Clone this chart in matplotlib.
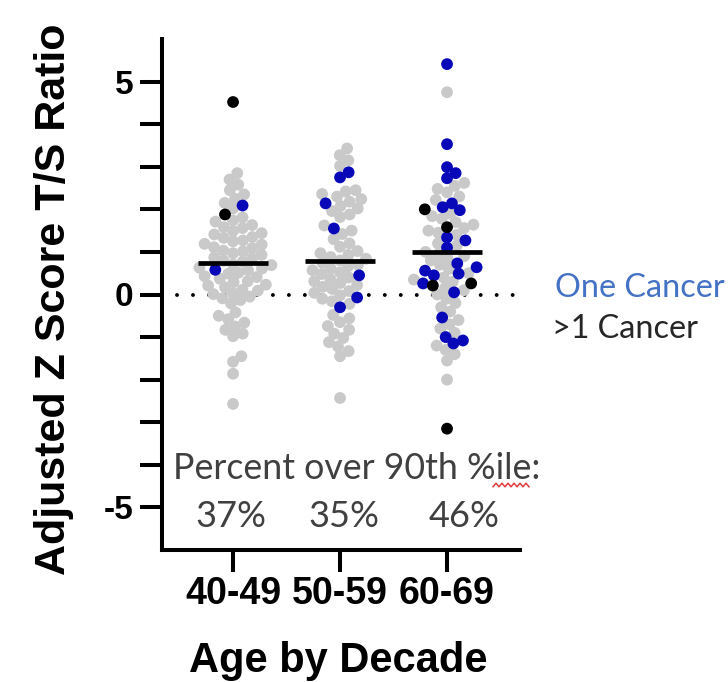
import numpy as np
import matplotlib
matplotlib.use("Agg")
import matplotlib.pyplot as plt
from matplotlib.lines import Line2D
from matplotlib.ticker import FixedLocator

plt.rcParams['font.family'] = ['Liberation Sans', 'DejaVu Sans']

# ---- data ----
groups = ['40-49', '50-59', '60-69']

gray_4049 = [2.85, 2.70, 2.58, 2.45, 2.35, 2.25, 2.15, 2.02,
             1.81, 1.74, 1.71, 1.63, 1.58, 1.56, 1.49, 1.44, 1.41, 1.35, 1.33, 1.27,
             1.25, 1.19, 1.17, 1.11, 1.09, 1.03, 1.01, 0.97, 0.93, 0.87, 0.85, 0.79,
             0.77, 0.71, 0.69, 0.63, 0.61, 0.57, 0.51, 0.49, 0.43, 0.41, 0.37, 0.31,
             0.29, 0.23, 0.21, 0.17, 0.11, 0.09, 0.03, 0.01, -0.05, -0.09, -0.13, -0.21,
             -0.42, -0.50, -0.58, -0.66, -0.75, -0.83, -0.92, -0.98,
             -1.45, -1.58, -1.86, -2.57]
blue_4049 = [2.09, 0.58]
black_4049 = [4.52, 1.88]

gray_5059 = [3.43, 3.27, 3.15, 3.02,
             2.45, 2.42, 2.36, 2.30, 2.24, 2.18, 2.08, 2.02, 1.96, 1.88, 1.82,
             1.62, 1.50, 1.42, 1.30, 1.20, 1.12,
             1.02, 0.97, 0.93, 0.88, 0.84, 0.80, 0.74, 0.70, 0.66, 0.61, 0.57, 0.52,
             0.48, 0.40, 0.36, 0.31, 0.27, 0.22, 0.18, 0.13, 0.08, 0.04, -0.02, -0.10,
             -0.16, -0.22,
             -0.48, -0.56, -0.65, -0.74, -0.83, -0.92, -1.02, -1.12, -1.22, -1.33,
             -1.45, -2.43]
blue_5059 = [2.87, 2.75, 2.14, 1.55, 0.45, -0.07, -0.30]
black_5059 = []

gray_6069 = [4.75, 2.62, 2.55, 2.48, 2.40, 2.30, 2.22, 1.90, 1.84, 1.78, 1.70, 1.64,
             1.56, 1.50, 1.45, 1.40, 1.20, 1.15, 1.00, 0.95, 0.90, 0.85, 0.80, 0.70,
             0.60, 0.50, 0.40, 0.35, 0.30, 0.15, 0.10, 0.00, -0.10, -0.20, -0.30,
             -0.40, -0.60, -0.70, -0.80, -0.90, -1.20, -1.30, -1.40, -1.55, -2.00]
blue_6069 = [5.41, 3.53, 2.99, 2.85, 2.73, 2.14, 2.05, 1.98, 1.34, 1.27, 1.10, 0.73,
             0.64, 0.56, 0.49, 0.45, 0.26, 0.05, -0.54, -1.00, -1.08, -1.15]
black_6069 = [2.00, 1.58, 0.21, 0.26, -3.15]

medians = [0.73, 0.78, 0.99]
pct_over_90 = ['37%', '35%', '46%']

gray_sets = [gray_4049, gray_5059, gray_6069]
blue_sets = [blue_4049, blue_5059, blue_6069]
black_sets = [black_4049, black_5059, black_6069]

GRAY = '#C9C9C9'
BLUE = '#0808B8'
BLACK = '#000000'


def swarm_offsets(ypix, d):
    # simple beeswarm: put each point as close to the centre as it can go
    order = np.argsort(ypix)
    px_list, py_list = [], []
    out = np.zeros(len(ypix))
    for i in order:
        y = ypix[i]
        cands = [0.0]
        for px, py in zip(px_list, py_list):
            dy = abs(y - py)
            if dy < d:
                dx = np.sqrt(d * d - dy * dy)
                cands += [px + dx, px - dx]
        cands.sort(key=abs)
        for c in cands:
            ok = True
            for px, py in zip(px_list, py_list):
                if (c - px) ** 2 + (y - py) ** 2 < d * d - 1e-6:
                    ok = False
                    break
            if ok:
                break
        out[i] = c
        px_list.append(c)
        py_list.append(y)
    return out


fig = plt.figure(figsize=(7.28, 6.82), dpi=100)
W, H = 728, 682
ax = fig.add_axes([162 / W, 132 / H, 358 / W, 511 / H])
ax.set_xlim(-0.664, 2.682)
ax.set_ylim(-6, 6)

# pixel scale of the data axes
p0 = ax.transData.transform((0, 0))
p1 = ax.transData.transform((1, 1))
sx, sy = p1[0] - p0[0], p1[1] - p0[1]

for g in range(len(groups)):
    vals = np.array(gray_sets[g] + blue_sets[g] + black_sets[g])
    kind = np.array([0] * len(gray_sets[g]) + [1] * len(blue_sets[g]) + [2] * len(black_sets[g]))
    offs = swarm_offsets(vals * sy, 10.0) / sx
    for k, col in zip([0, 1, 2], [GRAY, BLUE, BLACK]):
        m = kind == k
        ax.scatter(g + offs[m], vals[m], s=72, color=col, edgecolors='none', zorder=2 + k)
    ax.plot([g - 0.33, g + 0.33], [medians[g], medians[g]], color='black', lw=3.4,
            solid_capstyle='butt', zorder=6)

# dotted reference line at zero
ax.plot([-0.52, 2.63], [0, 0], color='black', lw=2.8, linestyle=(0, (0.01, 4.1)),
        dash_capstyle='round', zorder=1)

for side in ['top', 'right']:
    ax.spines[side].set_visible(False)
for side in ['left', 'bottom']:
    ax.spines[side].set_linewidth(2.9)

ax.set_xticks(range(len(groups)))
ax.set_xticklabels(groups, fontsize=27, fontweight='bold')
ax.set_yticks([-5, 0, 5])
ax.set_yticklabels(['-5', '0', '5'], fontsize=24, fontweight='bold')
ax.yaxis.set_minor_locator(FixedLocator([-4, -3, -2, -1, 1, 2, 3, 4]))
ax.tick_params(axis='both', which='both', direction='out', length=15.8, width=2.9)
ax.tick_params(axis='y', which='major', pad=5)
ax.tick_params(axis='x', which='major', pad=3)

ax.set_ylabel('Adjusted Z Score T/S Ratio', fontsize=31, fontweight='bold')
ax.yaxis.label.set_va('center')
ax.yaxis.set_label_coords((54 - 162) / 358, 0.49)
ax.set_xlabel('Age by Decade', fontsize=30, fontweight='bold')
ax.xaxis.label.set_va('baseline')
ax.xaxis.set_label_coords((338 - 162) / 358, (10 - 132) / 511)

# annotations in Calibri-like face
note_font = ['Lato', 'DejaVu Sans']
fig.text(173 / W, 1 - 479 / H, 'Percent over 90th %ile:', family=note_font,
         fontsize=25.7, color='#404040', ha='left', va='baseline')
for xc, s in zip([231, 344, 464], pct_over_90):
    fig.text(xc / W, 1 - 527 / H, s, family=note_font, fontsize=26,
             color='#404040', ha='center', va='baseline')

fig.text(555 / W, 1 - 297 / H, 'One Cancer', family=note_font, fontsize=23.3,
         color='#4472C4', ha='left', va='baseline')
fig.text(552 / W, 1 - 338 / H, '>1 Cancer', family=note_font, fontsize=23.3,
         color='#262626', ha='left', va='baseline')

# spell-check squiggle under "ile"
zx = np.arange(493, 530, 3.0)
zy = 485 + 1.8 * (-1) ** np.arange(len(zx))
fig.add_artist(Line2D(zx / W, 1 - zy / H, transform=fig.transFigure,
                      color='#E03C3C', lw=1.1))

fig.savefig('out.png', dpi=100)
